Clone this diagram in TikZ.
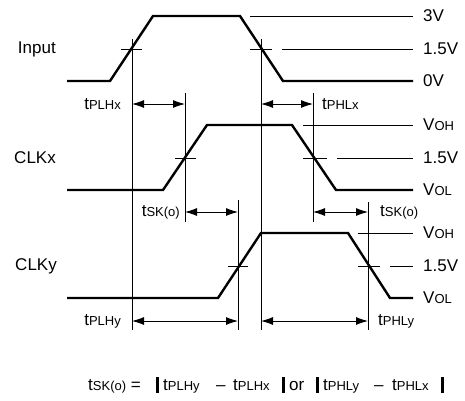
\documentclass[tikz,border=0pt]{standalone}
\usepackage{fontspec}
\setmainfont{Liberation Sans}
\usetikzlibrary{arrows.meta}
\newcommand{\sbx}[1]{{\fontsize{13}{13}\selectfont #1}}
\begin{document}
\begin{tikzpicture}[x=1pt,y=-1pt,
  wave/.style={line width=2.4pt,line join=miter},
  thin/.style={line width=0.9pt},
  absbar/.style={line width=3pt},
  dim/.style={line width=0.9pt,{Latex[length=12pt,width=8pt]}-{Latex[length=12pt,width=8pt]}},
  lbl/.style={font=\fontsize{17}{17}\selectfont,inner sep=0pt}]
\useasboundingbox (0,0) rectangle (465,400);
% waveforms
\draw[wave] (67,81)--(110,81)--(153,16)--(240,16)--(283,81)--(413,81);
\draw[wave] (67,190)--(163,190)--(207,125)--(292,125)--(336,190)--(413,190);
\draw[wave] (67,298)--(218,298)--(261,233)--(348,233)--(390,298)--(413,298);
% reference lines
\draw[thin] (250,16)--(413,16);
\draw[thin] (121,49)--(142,49);
\draw[thin] (250,49)--(272,49);
\draw[thin] (282,49)--(413,49);
\draw[thin] (303,125)--(413,125);
\draw[thin] (175,158)--(196,158);
\draw[thin] (303,158)--(327,158);
\draw[thin] (337,158)--(413,158);
\draw[thin] (358,233)--(413,233);
\draw[thin] (228,266)--(248,266);
\draw[thin] (358,266)--(380,266);
\draw[thin] (390,266)--(413,266);
% vertical markers
\coordinate (a1) at (132,39);  \coordinate (a2) at (132,330);
\coordinate (b1) at (261,39);  \coordinate (b2) at (261,330);
\coordinate (c1) at (185,93);  \coordinate (c2) at (185,222);
\coordinate (d1) at (313,93);  \coordinate (d2) at (313,222);
\coordinate (e1) at (238,200); \coordinate (e2) at (238,330);
\coordinate (f1) at (368,202); \coordinate (f2) at (368,330);
\draw[thin] (a1)--(a2);
\draw[thin] (b1)--(b2);
\draw[thin] (c1)--(c2);
\draw[thin] (d1)--(d2);
\draw[thin] (e1)--(e2);
\draw[thin] (f1)--(f2);
% dimension arrows
\draw[dim] (132,104)--(185,104);
\draw[dim] (261,104)--(313,104);
\draw[dim] (185,212)--(238,212);
\draw[dim] (313,212)--(368,212);
\draw[dim] (132,321)--(238,321);
\draw[dim] (261,321)--(368,321);
% left labels
\node[lbl,anchor=east] (in) at (56,49) {Input};
\node[lbl,anchor=east] (cx) at (56,158) {CLKx};
\node[lbl,anchor=east] (cy) at (57,266) {CLKy};
% right labels
\node[lbl,anchor=west] (r1) at (423,16) {3V};
\node[lbl,anchor=west] (r2) at (423,49) {1.5V};
\node[lbl,anchor=west] (r3) at (423,81) {0V};
\node[lbl,anchor=west] (r4) at (423,125) {V\sbx{OH}};
\node[lbl,anchor=west] (r5) at (423,158) {1.5V};
\node[lbl,anchor=west] (r6) at (423,190) {V\sbx{OL}};
\node[lbl,anchor=west] (r7) at (423,233) {V\sbx{OH}};
\node[lbl,anchor=west] (r8) at (423,266) {1.5V};
\node[lbl,anchor=west] (r9) at (423,298) {V\sbx{OL}};
% timing labels
\node[lbl,anchor=east] (t1) at (121,104) {t\sbx{PLHx}};
\node[lbl,anchor=west] (t2) at (322,104) {t\sbx{PHLx}};
\node[lbl,anchor=east] (t3) at (180,212) {t\sbx{SK(o)}};
\node[lbl,anchor=west] (t4) at (380,212) {t\sbx{SK(o)}};
\node[lbl,anchor=east] (t5) at (121,321) {t\sbx{PLHy}};
\node[lbl,anchor=west] (t6) at (378,321) {t\sbx{PHLy}};
% formula
\node[lbl,anchor=base west] (f1) at (88,390) {t\sbx{SK(o)} =};
\node[lbl,anchor=base west] (f2) at (163,390) {t\sbx{PLHy}};
\node[lbl,anchor=base west] (f3) at (216,390) {--};
\node[lbl,anchor=base west] (f4) at (233,390) {t\sbx{PLHx}};
\node[lbl,anchor=base west] (f5) at (289,390) {or};
\node[lbl,anchor=base west] (f6) at (323,390) {t\sbx{PHLy}};
\node[lbl,anchor=base west] (f7) at (374,390) {--};
\node[lbl,anchor=base west] (f8) at (392,390) {t\sbx{PHLx}};
\draw[absbar] (157.5,377)--(157.5,393);
\draw[absbar] (283.5,377)--(283.5,393);
\draw[absbar] (317.5,377)--(317.5,393);
\draw[absbar] (442.5,377)--(442.5,393);
\end{tikzpicture}
\end{document}
